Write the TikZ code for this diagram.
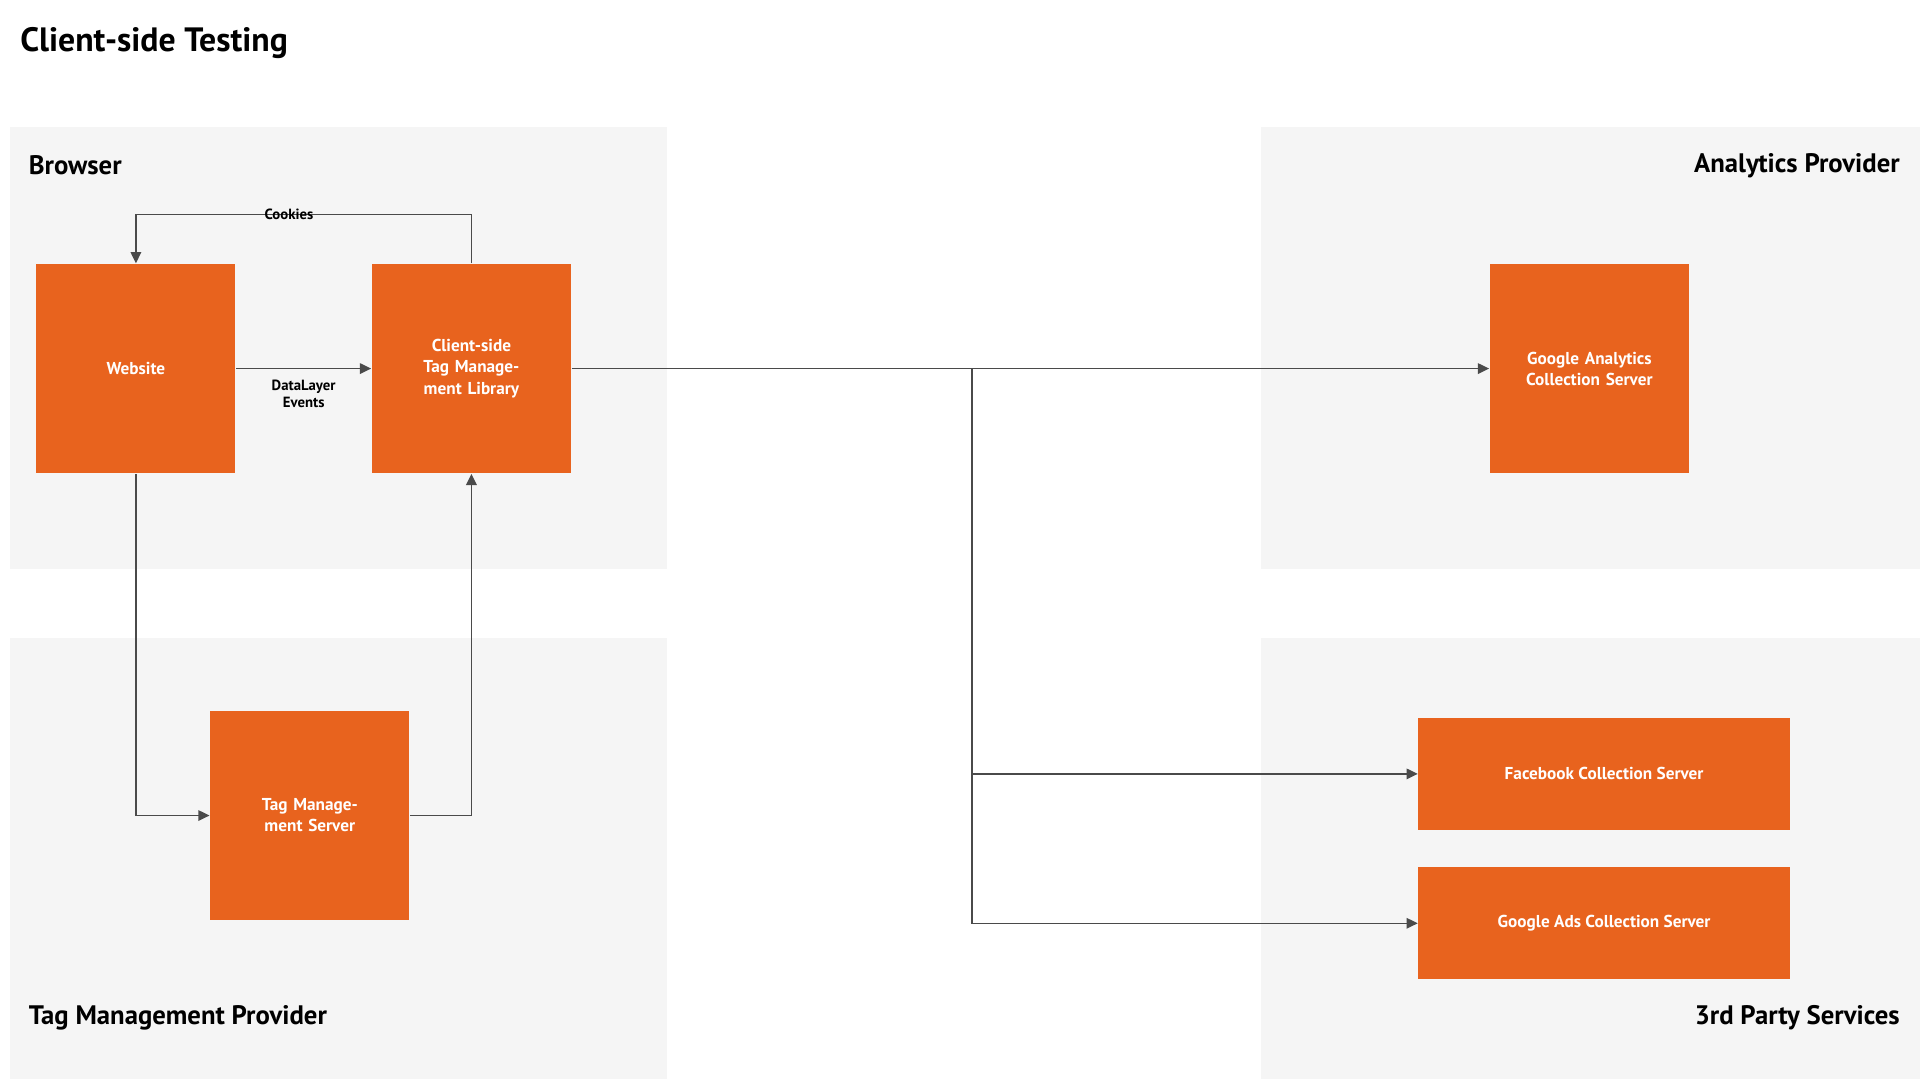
\documentclass[tikz,border=0pt]{standalone}
\usepackage{fontspec}
\setmainfont{PT Sans}
\usetikzlibrary{arrows.meta,positioning,calc}
\definecolor{svcorange}{HTML}{E8631E}
\definecolor{zonegray}{HTML}{F5F5F5}
\definecolor{wiregray}{HTML}{4A4A4A}
\tikzset{
  zone/.style={fill=zonegray,draw=none},
  zonelabel/.style={font=\bfseries\fontsize{7.6}{9}\selectfont,inner sep=0pt},
  svc/.style={fill=svcorange,draw=none,text=white,font=\bfseries\fontsize{4.9}{6}\selectfont,align=center,inner sep=0pt},
  wire/.style={draw=wiregray,line width=0.45pt,-{Triangle[length=3.2pt,width=3pt]}},
  wirelabel/.style={font=\bfseries\fontsize{4.2}{5}\selectfont,align=center,inner sep=1pt}
}
\begin{document}
\begin{tikzpicture}[x=0.012245cm,y=-0.012245cm]
\useasboundingbox (0,0) rectangle (1568,882);

% zones
\fill[zone] (8,104) rectangle (545,465);
\fill[zone] (8,521) rectangle (545,881);
\fill[zone] (1030,104) rectangle (1568,465);
\fill[zone] (1030,521) rectangle (1568,881);

\node[anchor=west,font=\bfseries\fontsize{9.6}{11}\selectfont,inner sep=0pt] (title) at (16,35) {Client-side Testing};
\node[zonelabel,anchor=west] (browser) at (23,135) {Browser};
\node[zonelabel,anchor=west] (tmp) at (23,831) {Tag Management Provider};
\node[zonelabel,anchor=east] (analytics) at (1552,135) {Analytics Provider};
\node[zonelabel,anchor=east] (thirdparty) at (1552,831) {3rd Party Services};

% services
\node[svc,minimum width=1.99cm,minimum height=2.09cm] (website) at (111,301) {Website};
\node[svc,minimum width=1.99cm,minimum height=2.09cm,text width=1.3cm] (ctml) at (385,301) {Client-side Tag Management Library};
\node[svc,minimum width=1.99cm,minimum height=2.09cm,text width=1.4cm] (tms) at (253,666) {Tag Management Server};
\node[svc,minimum width=1.99cm,minimum height=2.09cm,text width=1.5cm] (ga) at (1298,301) {Google Analytics Collection Server};
\node[svc,minimum width=3.71cm,minimum height=1.12cm] (fb) at (1310,632) {Facebook Collection Server};
\node[svc,minimum width=3.71cm,minimum height=1.12cm] (gads) at (1310,754) {Google Ads Collection Server};

% connectors
\draw[wire] (website) -- node[wirelabel,below=2pt] {DataLayer\\Events} (ctml);
\draw[wire] (ctml.north) |- (236,175) node[wirelabel,fill=white,fill opacity=0,text opacity=1] {Cookies} -| (website.north);
\draw[wire] (website.south) |- (tms.west);
\draw[wire] (tms.east) -| (ctml.south);
\coordinate (fork) at (794,301);
\draw[wire] (ctml.east) -- (ga.west);
\draw[wire] (fork) |- (fb.west);
\draw[wire] (fork) |- (gads.west);
\end{tikzpicture}
\end{document}
